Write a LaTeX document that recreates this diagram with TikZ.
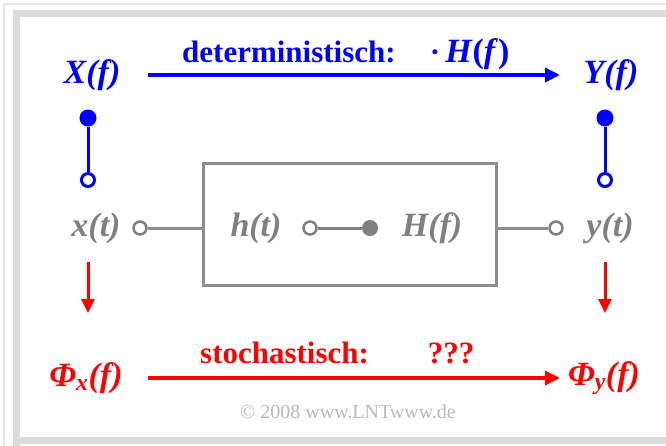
\documentclass[tikz,border=0pt]{standalone}
\usepackage{fontspec}
\setmainfont{Liberation Serif}
\usetikzlibrary{arrows.meta}
\definecolor{lntblue}{RGB}{0,0,255}
\definecolor{lntred}{RGB}{255,0,0}
\definecolor{lntgray}{RGB}{128,128,128}
\definecolor{boxgray}{RGB}{140,140,140}
\definecolor{framegray}{RGB}{220,220,220}
\definecolor{thingray}{RGB}{232,232,232}
\definecolor{copygray}{RGB}{185,185,185}
\tikzset{
  lab/.style={inner sep=0pt, font=\fontsize{34}{36}\selectfont\bfseries\itshape},
  txt/.style={inner sep=0pt, font=\fontsize{31}{33}\selectfont\bfseries},
  bigarrow/.style={line width=3.5pt, -{Triangle[length=15pt,width=14pt]}},
  smallarrow/.style={line width=3pt, -{Triangle[length=14pt,width=13pt]}},
  fulldot/.style={circle, fill, inner sep=0pt, minimum size=17pt},
  opendot/.style={circle, draw, fill=white, line width=3pt, inner sep=0pt, minimum size=13pt},
  grayopen/.style={circle, draw=lntgray, fill=white, line width=2.5pt, inner sep=0pt, minimum size=13pt},
  grayfull/.style={circle, fill=lntgray, inner sep=0pt, minimum size=16pt},
}
\begin{document}
\begin{tikzpicture}[x=1pt,y=-1pt]
\useasboundingbox (0,0) rectangle (666,445);
% frame
\draw[thingray, line width=1.5pt] (4,4) -- (680,4);
\draw[thingray, line width=1.5pt] (4,4) -- (4,460);
\draw[framegray, line width=7pt] (16,460) -- (16,13.5) -- (680,13.5);
\draw[framegray, line width=7pt] (12.5,440) -- (680,440);
% top row
\node[lab, text=lntblue] (X) at (92,75) {X(f)};
\node[lab, text=lntblue] (Y) at (611,75) {Y(f)};
\coordinate (A1) at (148,75);
\coordinate (A2) at (560,75);
\draw[bigarrow, lntblue] (A1) -- (A2);
\node[txt, text=lntblue, anchor=base west] (det) at (182,62) {deterministisch:\hspace{1.1em}·\,{\fontsize{34}{36}\selectfont\textit{H}(\textit{f})}};
% stems
\node[fulldot, fill=lntblue] (d1) at (88,118) {};
\node[opendot, draw=lntblue] (c1) at (88,180) {};
\draw[lntblue, line width=3pt] (d1) -- (c1);
\node[fulldot, fill=lntblue] (d2) at (605,118) {};
\node[opendot, draw=lntblue] (c2) at (605,180) {};
\draw[lntblue, line width=3pt] (d2) -- (c2);
% middle row
\node[lab, text=lntgray] (x) at (96,228) {x(t)};
\node[grayopen] (cx) at (140,228) {};
\node[draw=boxgray, line width=3pt, minimum width=293pt, minimum height=122pt, inner sep=0pt] (sys) at (349.5,224) {};
\draw[boxgray, line width=3pt] (cx) -- (sys.west |- cx);
\node[lab, text=lntgray] (h) at (256,228) {h(t)};
\node[grayopen] (ch) at (310,228) {};
\node[grayfull] (dH) at (370,228) {};
\draw[lntgray, line width=3pt] (ch) -- (dH);
\node[lab, text=lntgray] (H) at (432,228) {H(f)};
\node[grayopen] (cy) at (556,228) {};
\draw[boxgray, line width=3pt] (sys.east |- cy) -- (cy);
\node[lab, text=lntgray] (y) at (610,228) {y(t)};
% red arrows down
\coordinate (r1) at (88,262);
\coordinate (r2) at (88,313);
\draw[smallarrow, lntred] (r1) -- (r2);
\coordinate (r3) at (605,262);
\coordinate (r4) at (605,313);
\draw[smallarrow, lntred] (r3) -- (r4);
% bottom row
\node[lab, text=lntred] (Px) at (86,378) {Φ\textsubscript{x}(f)};
\node[lab, text=lntred] (Py) at (604,378) {Φ\textsubscript{y}(f)};
\coordinate (B1) at (148,378);
\coordinate (B2) at (560,378);
\draw[bigarrow, lntred] (B1) -- (B2);
\node[txt, text=lntred, anchor=base west] (sto) at (200,363) {stochastisch:\hspace{1.9em}???};
\node[inner sep=0pt, text=copygray, font=\fontsize{20}{22}\selectfont] (copy) at (348,412) {© 2008 www.LNTwww.de};
\end{tikzpicture}
\end{document}
